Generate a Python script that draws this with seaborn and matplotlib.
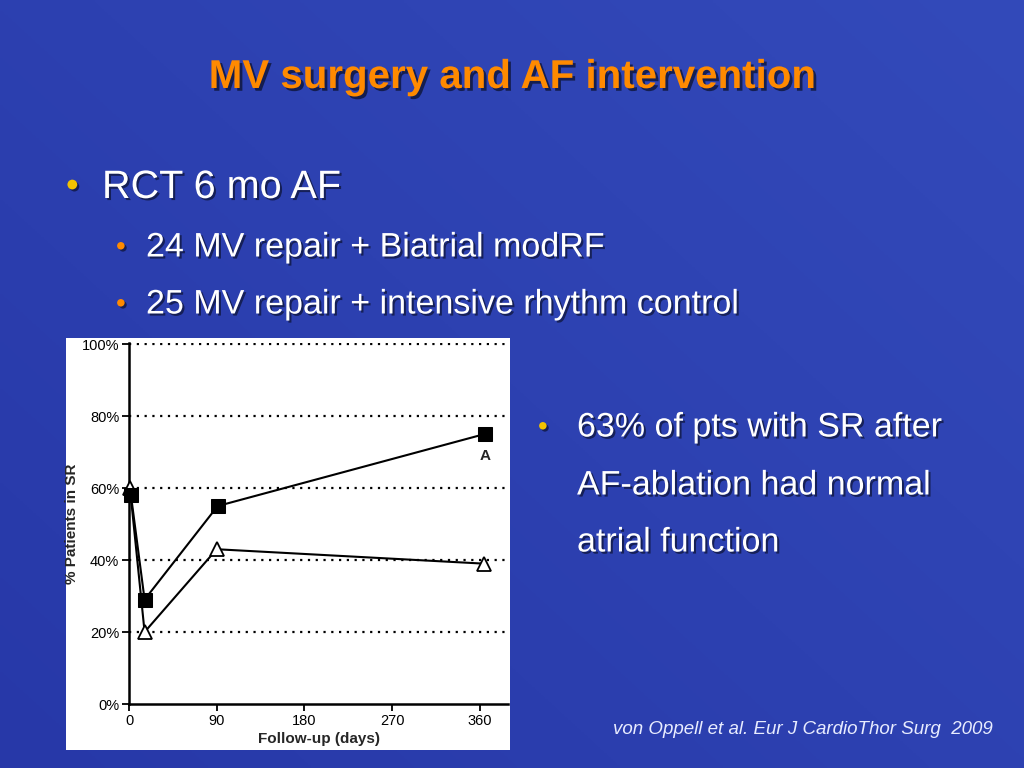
import numpy as np
import matplotlib
matplotlib.use("Agg")
import matplotlib.pyplot as plt
import matplotlib.patheffects as pe
from matplotlib.patches import Rectangle
import seaborn as sns

# data (follow-up day, % patients in SR)
days_modrf = [2, 16, 91, 365]
sr_modrf = [58, 29, 55, 75]
days_rhythm = [1, 16, 90, 364]
sr_rhythm = [60, 20, 43, 39]

x_ticks = [0, 90, 180, 270, 360]
y_ticks = [0, 20, 40, 60, 80, 100]
y_ticklabels = ["0%", "20%", "40%", "60%", "80%", "100%"]

sns.set_style("white")
plt.rcParams["font.family"] = ["Liberation Sans", "DejaVu Sans"]

fig = plt.figure(figsize=(10.24, 7.68), dpi=100)

# slide background with a soft gradient
bg = fig.add_axes([0, 0, 1, 1], zorder=-5)
gx, gy = np.meshgrid(np.linspace(0, 1, 256), np.linspace(0, 1, 256))
grad = 0.55 * gx + 0.45 * (1 - gy)
c0 = np.array([0x27, 0x38, 0xA8]) / 255
c1 = np.array([0x33, 0x4A, 0xBA]) / 255
img = c0[None, None, :] * (1 - grad[..., None]) + c1[None, None, :] * grad[..., None]
bg.imshow(img, extent=[0, 1, 0, 1], aspect="auto", origin="upper")
# white panel holding the figure from the paper
bg.add_patch(Rectangle((66 / 1024, 1 - 750 / 768), (510 - 66) / 1024, (750 - 338) / 768,
                       facecolor="white", edgecolor="none", zorder=2))
bg.set_xlim(0, 1)
bg.set_ylim(0, 1)
bg.axis("off")

shadow = [pe.withSimplePatchShadow(offset=(2, -2), shadow_rgbFace="black", alpha=0.55)]
shadow_s = [pe.withSimplePatchShadow(offset=(1.5, -1.5), shadow_rgbFace="black", alpha=0.5)]

fig.text(0.5, 1 - 77 / 768, "MV surgery and AF intervention", ha="center", va="center",
         fontsize=29, fontweight="bold", color="#FF8A00", path_effects=shadow)

fig.text(66 / 1024, 1 - 187 / 768, "•", ha="left", va="center", fontsize=26,
         color="#F2C200", path_effects=shadow_s)
fig.text(102 / 1024, 1 - 187 / 768, "RCT 6 mo AF", ha="left", va="center",
         fontsize=28.5, color="white", path_effects=shadow_s)

for yy, txt in [(248, "24 MV repair + Biatrial modRF"),
                (305, "25 MV repair + intensive rhythm control")]:
    fig.text(116 / 1024, 1 - yy / 768, "•", ha="left", va="center", fontsize=20,
             color="#FF8A00", path_effects=shadow_s)
    fig.text(146 / 1024, 1 - yy / 768, txt, ha="left", va="center",
             fontsize=24.5, color="white", path_effects=shadow_s)

fig.text(538 / 1024, 1 - 428 / 768, "•", ha="left", va="center", fontsize=20,
         color="#F2C200", path_effects=shadow_s)
for yy, txt in [(428, "63% of pts with SR after"),
                (486, "AF-ablation had normal"),
                (543, "atrial function")]:
    fig.text(577 / 1024, 1 - yy / 768, txt, ha="left", va="center",
             fontsize=24.5, color="white", path_effects=shadow_s)

fig.text(993 / 1024, 1 - 729 / 768, "von Oppell et al. Eur J CardioThor Surg  2009",
         ha="right", va="center", fontsize=13.5, style="italic", color="#E8ECFF")

ax = fig.add_axes([129 / 1024, 1 - 704 / 768, (508 - 129) / 1024, (704 - 343) / 768])
ax.patch.set_alpha(0)

for yv in y_ticks[1:]:
    ax.axhline(yv, color="black", lw=1.6, linestyle=(0, (1, 2.5)), zorder=1)

sns.lineplot(x=days_rhythm, y=sr_rhythm, ax=ax, color="black", lw=1.5, marker="^",
             markersize=10, markerfacecolor="white", markeredgecolor="black",
             markeredgewidth=1.3, zorder=3, clip_on=False)
sns.lineplot(x=days_modrf, y=sr_modrf, ax=ax, color="black", lw=1.5, marker="s",
             markersize=9.5, markerfacecolor="black", markeredgecolor="black", zorder=4,
             clip_on=False)

ax.text(366, 69, "A", ha="center", va="center", fontsize=11, fontweight="bold")

ax.set_xlim(0, 389)
ax.set_ylim(0, 100.3)
ax.set_xticks(x_ticks)
ax.set_yticks(y_ticks)
ax.set_yticklabels(y_ticklabels)
ax.tick_params(axis="both", labelsize=10.5, direction="out", length=5, width=1.3,
               colors="black", pad=2)
ax.tick_params(axis="y", left=True)
ax.tick_params(axis="x", bottom=True)
for s in ["top", "right"]:
    ax.spines[s].set_visible(False)
for s in ["left", "bottom"]:
    ax.spines[s].set_color("black")
    ax.spines[s].set_linewidth(1.8)
ax.set_xlabel("Follow-up (days)", fontsize=11, fontweight="bold", labelpad=3)
ax.set_ylabel("% Patients in SR", fontsize=11, fontweight="bold", labelpad=2)

fig.savefig("out.png", dpi=100)
